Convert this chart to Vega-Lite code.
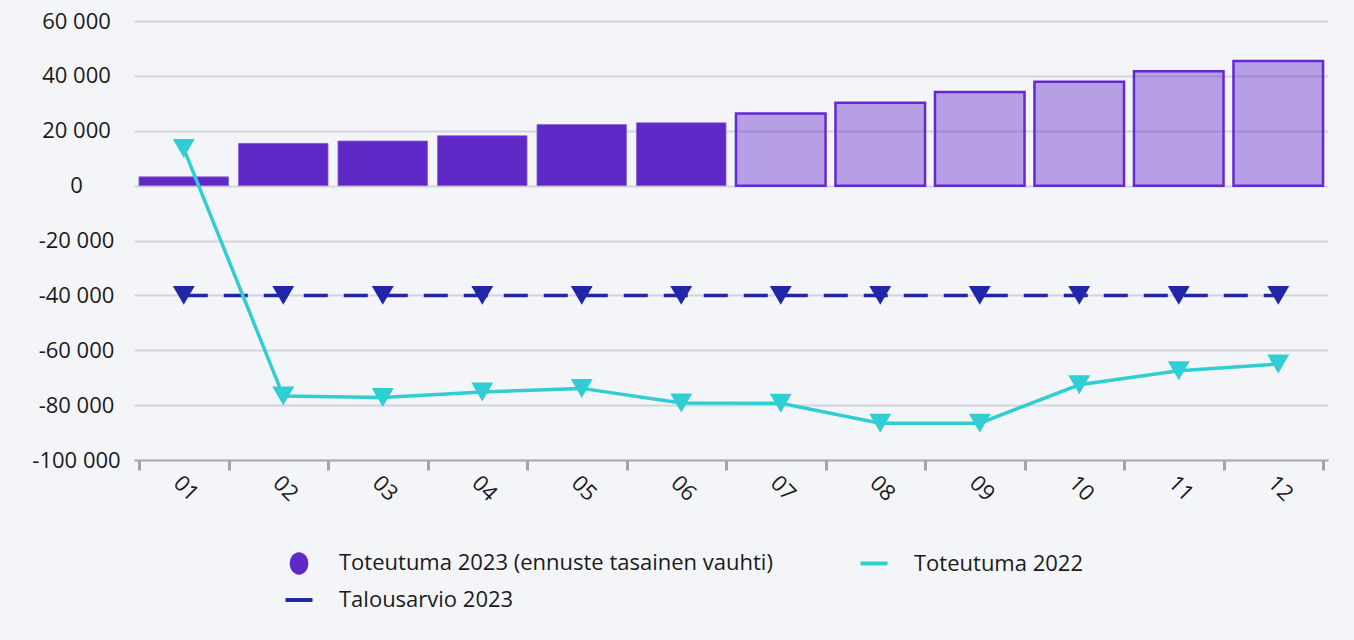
{
  "$schema": "https://vega.github.io/schema/vega-lite/v6.json",
  "autosize": {"type": "none"},
  "padding": {"left": 134, "top": 21, "right": 26, "bottom": 180},
  "width": 1194,
  "height": 439,
  "background": "#f4f5f9",
  "config": {
    "view": {"stroke": null},
    "font": "Open Sans",
    "locale": {"number": {"decimal": ",", "thousands": " ", "grouping": [3], "currency": ["", " €"], "minus": "-"}},
    "axis": {"labelFont": "Open Sans", "labelColor": "#1b1b1b", "title": null},
    "legend": {"labelFont": "Open Sans", "labelColor": "#1b1b1b"}
  },
  "datasets": {
    "main": [
      {"month": "01", "actual": 3200, "type": "toteutuma", "t2022": 13500, "budget": -40000},
      {"month": "02", "actual": 15400, "type": "toteutuma", "t2022": -76700, "budget": -40000},
      {"month": "03", "actual": 16250, "type": "toteutuma", "t2022": -77200, "budget": -40000},
      {"month": "04", "actual": 18200, "type": "toteutuma", "t2022": -75200, "budget": -40000},
      {"month": "05", "actual": 22300, "type": "toteutuma", "t2022": -73900, "budget": -40000},
      {"month": "06", "actual": 22900, "type": "toteutuma", "t2022": -79200, "budget": -40000},
      {"month": "07", "actual": 26300, "type": "ennuste", "t2022": -79300, "budget": -40000},
      {"month": "08", "actual": 30200, "type": "ennuste", "t2022": -86600, "budget": -40000},
      {"month": "09", "actual": 34100, "type": "ennuste", "t2022": -86600, "budget": -40000},
      {"month": "10", "actual": 37850, "type": "ennuste", "t2022": -72600, "budget": -40000},
      {"month": "11", "actual": 41700, "type": "ennuste", "t2022": -67500, "budget": -40000},
      {"month": "12", "actual": 45450, "type": "ennuste", "t2022": -65000, "budget": -40000}
    ],
    "legend": [
      {"month": "01", "series": "Toteutuma 2023 (ennuste tasainen vauhti)", "v": null},
      {"month": "01", "series": "Talousarvio 2023", "v": null},
      {"month": "01", "series": "Toteutuma 2022", "v": null}
    ]
  },
  "encoding": {
    "x": {
      "field": "month", "type": "ordinal",
      "scale": {"paddingInner": 0.1, "paddingOuter": 0.05},
      "axis": {
        "labelAngle": 45, "labelFontSize": 22, "labelPadding": 2,
        "tickBand": "extent", "tickSize": 10, "tickWidth": 3, "tickColor": "#a3a3a9",
        "domainColor": "#aaaaaf", "domainWidth": 2, "grid": false, "zindex": 2
      }
    }
  },
  "layer": [
    {
      "data": {"name": "main"},
      "mark": {"type": "bar"},
      "encoding": {
        "y": {
          "field": "actual", "type": "quantitative",
          "scale": {"domain": [-100000, 60000], "nice": false, "zero": false},
          "axis": {
            "values": [-100000, -80000, -60000, -40000, -20000, 0, 20000, 40000, 60000],
            "format": ",d", "grid": true, "gridColor": "#d4d5db", "gridWidth": 2,
            "domain": false, "ticks": false, "labelAlign": "center", "labelBaseline": "middle",
            "labelPadding": 58, "labelFontSize": 22, "zindex": 0
          }
        },
        "fill": {"value": "#5f29c8"},
        "fillOpacity": {"condition": {"test": "datum.type === 'ennuste'", "value": 0.42}, "value": 1},
        "stroke": {"condition": {"test": "datum.type === 'ennuste'", "value": "#6329d3"}, "value": "#8a66d6"},
        "strokeWidth": {"condition": {"test": "datum.type === 'ennuste'", "value": 2.5}, "value": 0.8}
      }
    },
    {
      "data": {"name": "main"},
      "mark": {"type": "line", "color": "#2126a8", "strokeWidth": 3.5, "strokeDash": [24, 16]},
      "encoding": {"y": {"field": "budget", "type": "quantitative"}}
    },
    {
      "data": {"name": "main"},
      "mark": {"type": "point", "shape": "triangle-down", "filled": true, "color": "#2126a8", "size": 480, "opacity": 1},
      "encoding": {"y": {"field": "budget", "type": "quantitative"}}
    },
    {
      "data": {"name": "main"},
      "mark": {"type": "line", "color": "#30cdd3", "strokeWidth": 3.5},
      "encoding": {"y": {"field": "t2022", "type": "quantitative"}}
    },
    {
      "data": {"name": "main"},
      "mark": {"type": "point", "shape": "triangle-down", "filled": true, "color": "#30cdd3", "size": 480, "opacity": 1},
      "encoding": {"y": {"field": "t2022", "type": "quantitative"}}
    },
    {
      "data": {"name": "legend"},
      "mark": {"type": "point", "filled": true, "size": 900, "opacity": 1, "strokeWidth": 0},
      "encoding": {
        "y": {"field": "v", "type": "quantitative"},
        "color": {
          "field": "series", "type": "nominal",
          "scale": {
            "domain": ["Toteutuma 2023 (ennuste tasainen vauhti)", "Talousarvio 2023", "Toteutuma 2022"],
            "range": ["#5f29c8", "#2126a8", "#30cdd3"]
          },
          "legend": {
            "orient": "none", "legendX": 150, "legendY": 527, "columns": 2,
            "columnPadding": 86, "rowPadding": 10, "title": null, "labelLimit": 0,
            "symbolSize": 900, "labelFontSize": 22, "labelOffset": 25,
            "symbolStrokeWidth": 0, "symbolOpacity": 1
          }
        },
        "shape": {
          "field": "series", "type": "nominal",
          "scale": {
            "domain": ["Toteutuma 2023 (ennuste tasainen vauhti)", "Talousarvio 2023", "Toteutuma 2022"],
            "range": ["M0,-0.75A0.62,0.75 0 1,1 0,0.75A0.62,0.75 0 1,1 0,-0.75Z", "M-0.9,-0.13L0.9,-0.13L0.9,0.13L-0.9,0.13Z", "M-0.9,-0.13L0.9,-0.13L0.9,0.13L-0.9,0.13Z"]
          }
        }
      }
    }
  ]
}
